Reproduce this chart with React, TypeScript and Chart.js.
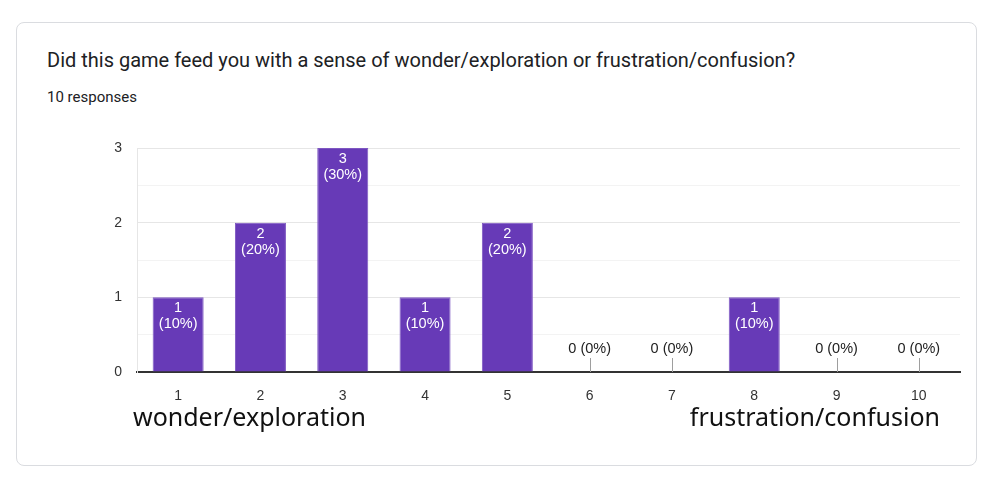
import React, { useEffect, useRef } from "react";
import { Chart, registerables } from "chart.js";

Chart.register(...registerables);

const title = "Did this game feed you with a sense of wonder/exploration or frustration/confusion?";
const subtitle = "10 responses";
const categories = ["1", "2", "3", "4", "5", "6", "7", "8", "9", "10"];
const counts = [1, 2, 3, 1, 2, 0, 0, 1, 0, 0];
const percents = ["10%", "20%", "30%", "10%", "20%", "0%", "0%", "10%", "0%", "0%"];
const yTicks = [0, 1, 2, 3];
const leftLabel = "wonder/exploration";
const rightLabel = "frustration/confusion";

const BAR = "#673ab7";
const LABEL_FONT = '14.5px "Liberation Sans", Arial, sans-serif';

const barLabels = {
  id: "barLabels",
  afterDatasetsDraw(chart: any) {
    const { ctx } = chart;
    const meta = chart.getDatasetMeta(0);
    const yScale = chart.scales.y;
    const base = yScale.getPixelForValue(0);
    ctx.save();
    ctx.font = LABEL_FONT;
    ctx.textAlign = "center";
    ctx.textBaseline = "middle";
    meta.data.forEach((bar: any, i: number) => {
      const v = counts[i];
      const x = bar.x;
      if (v > 0) {
        ctx.fillStyle = "#ffffff";
        ctx.fillText(String(v), x, bar.y + 11);
        ctx.fillText("(" + percents[i] + ")", x, bar.y + 27);
      } else {
        ctx.strokeStyle = "#9e9e9e";
        ctx.lineWidth = 1;
        ctx.beginPath();
        ctx.moveTo(Math.round(x) + 0.5, base);
        ctx.lineTo(Math.round(x) + 0.5, base - 14);
        ctx.stroke();
        ctx.fillStyle = "#222222";
        ctx.fillText(String(v) + " (" + percents[i] + ")", x, base - 23);
      }
    });
    ctx.restore();
  },
};

export default function App() {
  const ref = useRef<HTMLCanvasElement | null>(null);
  useEffect(() => {
    if (!ref.current) return;
    const chart = new Chart(ref.current, {
      type: "bar",
      data: {
        labels: categories,
        datasets: [
          {
            data: counts,
            backgroundColor: BAR,
            borderColor: "#7e57c2",
            borderWidth: 1,
            categoryPercentage: 0.62,
            barPercentage: 1,
          },
        ],
      },
      options: {
        animation: false,
        responsive: false,
        maintainAspectRatio: false,
        layout: { padding: { left: 100, right: 40, top: 148, bottom: 81 } },
        plugins: { legend: { display: false }, tooltip: { enabled: false } },
        scales: {
          x: {
            grid: { display: false },
            border: { color: "#333333", width: 2 },
            ticks: {
              color: "#333333",
              font: { family: '"Liberation Sans", Arial, sans-serif', size: 14 },
              padding: 8,
              maxRotation: 0,
            },
            afterFit: (s: any) => {
              s.height = 30;
            },
          },
          y: {
            min: 0,
            max: 3,
            ticks: {
              stepSize: 0.5,
              color: "#333333",
              font: { family: '"Liberation Sans", Arial, sans-serif', size: 14 },
              padding: 15,
              callback: (v: any) => (yTicks.includes(Number(v)) ? String(v) : ""),
            },
            grid: {
              drawTicks: false,
              color: (c: any) =>
                c.tick && Number.isInteger(c.tick.value) ? "#e6e6e6" : "#f3f3f3",
            },
            border: { color: "#e6e6e6", width: 1 },
            afterFit: (s: any) => {
              s.width = 37;
            },
          },
        },
      },
      plugins: [barLabels],
    });
    return () => chart.destroy();
  }, []);

  return (
    <div style={{ position: "absolute", left: 0, top: 0, width: 1000, height: 483, background: "#ffffff", overflow: "hidden" }}>
      <div
        style={{
          position: "absolute",
          left: 16,
          top: 22,
          width: 959,
          height: 442,
          border: "1px solid #dadce0",
          borderRadius: 8,
          background: "#fff",
        }}
      />
      <div
        style={{
          position: "absolute",
          left: 47,
          top: 47,
          fontFamily: "Roboto, sans-serif",
          fontSize: 20,
          lineHeight: "26px",
          color: "#202124",
          whiteSpace: "nowrap",
        }}
      >
        {title}
      </div>
      <div
        style={{
          position: "absolute",
          left: 47,
          top: 87,
          fontFamily: "Roboto, sans-serif",
          fontSize: 15,
          lineHeight: "20px",
          color: "#202124",
        }}
      >
        {subtitle}
      </div>
      <canvas ref={ref} width={1000} height={483} style={{ position: "absolute", left: 0, top: 0, width: 1000, height: 483 }} />
      <div
        style={{
          position: "absolute",
          left: 133,
          top: 399,
          fontFamily: '"Noto Sans", sans-serif',
          fontSize: 25,
          color: "#111",
          whiteSpace: "nowrap",
        }}
      >
        {leftLabel}
      </div>
      <div
        style={{
          position: "absolute",
          right: 60,
          top: 399,
          fontFamily: '"Noto Sans", sans-serif',
          fontSize: 25,
          color: "#111",
          whiteSpace: "nowrap",
        }}
      >
        {rightLabel}
      </div>
    </div>
  );
}
